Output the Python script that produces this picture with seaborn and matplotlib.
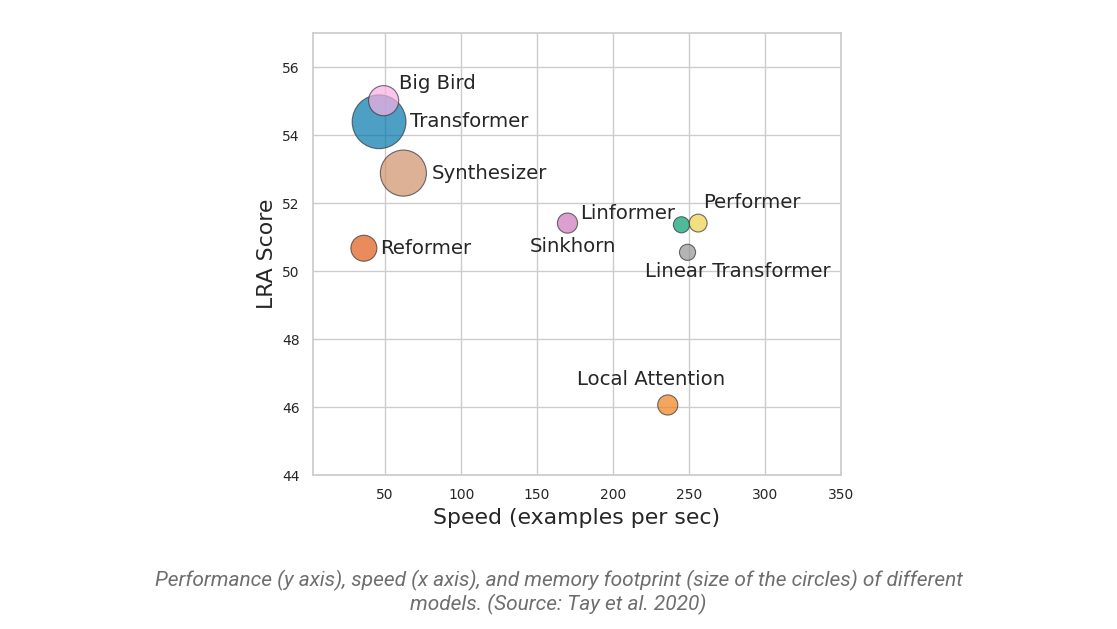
import matplotlib
matplotlib.use("Agg")
import pandas as pd
import seaborn as sns
import matplotlib.pyplot as plt

# values
models = ["Transformer", "Local Attention", "Linformer", "Reformer", "Sinkhorn",
          "Synthesizer", "Big Bird", "Linear Transformer", "Performer"]
speed = [46, 236, 245, 36, 170, 62, 49, 249, 256]
lra_score = [54.39, 46.06, 51.36, 50.67, 51.41, 52.88, 55.01, 50.55, 51.41]
# memory footprint, used as circle area
memory = [1500, 210, 135, 350, 210, 1100, 470, 135, 165]
colors = ["#0176ac", "#f0801e", "#029e70", "#e05a18", "#cc78bc",
          "#ce9068", "#fbafe4", "#949494", "#efd04a"]

# label offsets from each circle (pixels) and alignment
label_dx = [31, -17, -6, 16, 5, 28, 15, 50, 5]
label_dy = [0, 25, 11, 0, -23, 0, 17, -19, 21]
label_ha = ["left", "center", "right", "left", "center", "left", "left", "center", "left"]

df = pd.DataFrame({"model": models, "speed": speed, "score": lra_score, "memory": memory})

sns.set_theme(style="whitegrid")
plt.rcParams["font.family"] = ["DejaVu Sans"]

fig = plt.figure(figsize=(11.17, 6.29), dpi=100)
ax = fig.add_axes([0.2802, 0.2448, 0.4727, 0.7027])

sns.scatterplot(data=df, x="speed", y="score", hue="model", size="model",
                palette=dict(zip(models, colors)), sizes=dict(zip(models, memory)),
                alpha=0.7, edgecolor="#333333", linewidth=0.8, legend=False, ax=ax)

for i, m in enumerate(models):
    ax.annotate(m, (speed[i], lra_score[i]), xytext=(label_dx[i], label_dy[i]),
                textcoords="offset pixels", ha=label_ha[i], va="center",
                fontsize=14.2, color="#262626")

ax.set_xlim(2.5, 350)
ax.set_ylim(44, 57)
ax.set_xticks([50, 100, 150, 200, 250, 300, 350])
ax.set_yticks([44, 46, 48, 50, 52, 54, 56])
ax.tick_params(labelsize=10, colors="#262626")
ax.set_xlabel("Speed (examples per sec)", fontsize=15.8, color="#262626")
ax.set_ylabel("LRA Score", fontsize=15.8, color="#262626")
for sp in ax.spines.values():
    sp.set_color("#cccccc")

fig.text(0.5, 0.058, "Performance (y axis), speed (x axis), and memory footprint (size of the circles) of different\nmodels. (Source: Tay et al. 2020)",
         ha="center", va="center", fontsize=15, style="italic",
         color="#6e6e6e", family=["Roboto", "DejaVu Sans"], linespacing=1.2)

fig.savefig("out.png", dpi=100)
